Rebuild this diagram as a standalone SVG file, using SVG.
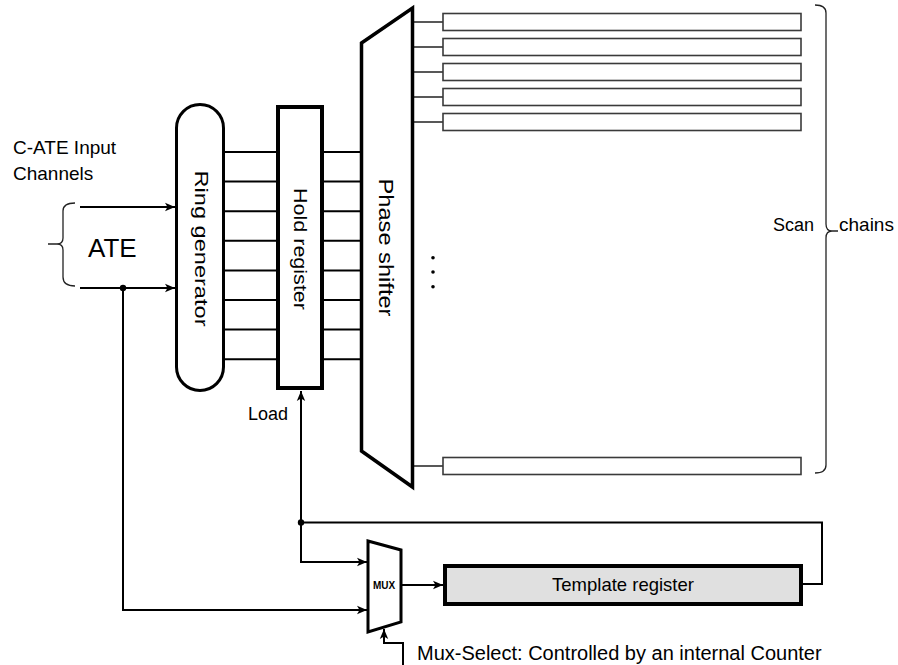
<svg xmlns="http://www.w3.org/2000/svg" width="898" height="665" viewBox="0 0 898 665">
<style>
  .lbl { font-family: "Liberation Sans", Arial, sans-serif; fill: #000; }
  .block { fill: #fff; stroke: #000; }
  .wire { fill: none; stroke: #000; stroke-width: 2; }
  .thin { fill: none; stroke: #222; stroke-width: 1.6; }
  .chain { fill: #fff; stroke: #3a3a3a; stroke-width: 1.6; }
  .brace { fill: none; stroke: #222; stroke-width: 1.3; }
</style>
<defs>
  <marker id="arr" markerUnits="userSpaceOnUse" markerWidth="12" markerHeight="10" refX="11" refY="5" orient="auto">
    <path d="M1,0.8 L11,5 L1,9.2 L3.5,5 z" fill="#000"/>
  </marker>
</defs>
<rect width="898" height="665" fill="#fff"/>

<g id="labels">
  <text class="lbl" x="13" y="154" font-size="19">C-ATE Input</text>
  <text class="lbl" x="13" y="180" font-size="19">Channels</text>
  <text class="lbl" x="773" y="231" font-size="18">Scan</text>
  <text class="lbl" x="839" y="231" font-size="19">chains</text>
  <text class="lbl" x="248" y="420" font-size="18">Load</text>
  <text class="lbl" x="417" y="660" font-size="20">Mux-Select: Controlled by an internal Counter</text>
</g>

<g id="ate">
  <path class="brace" d="M75,203 Q63,203 63,211 L63,238 Q63,244 57,244 L48,244 M57,244 Q63,244 63,250 L63,277 Q63,286 75,286"/>
  <text class="lbl" x="88" y="257" font-size="26">ATE</text>
</g>

<g id="connectors">
  <path class="wire" d="M80,207 L175,207" marker-end="url(#arr)"/>
  <path class="wire" d="M80,288 L175,288" marker-end="url(#arr)"/>
  <path class="wire" d="M123,288 L123,610 L367,610" marker-end="url(#arr)"/>
  <path class="wire" d="M803,584 L822,584 L822,522.5 L301,522.5"/>
  <path class="wire" d="M301,522.5 L301,391" marker-end="url(#arr)"/>
  <path class="wire" d="M301,522.5 L301,562 L367,562" marker-end="url(#arr)"/>
  <path class="wire" d="M401,585 L443,585" marker-end="url(#arr)"/>
  <path class="wire" d="M403,665 L403,643 L384,643 L384,629" marker-end="url(#arr)"/>
  <circle cx="123" cy="288" r="3.2" fill="#000"/>
  <circle cx="301" cy="522.5" r="3.2" fill="#000"/>
  <g class="wire">
    <path d="M225,152 L277,152 M225,181.6 L277,181.6 M225,211.2 L277,211.2 M225,240.8 L277,240.8 M225,270.4 L277,270.4 M225,300 L277,300 M225,329.6 L277,329.6 M225,359.2 L277,359.2"/>
    <path d="M323,152 L362,152 M323,181.6 L362,181.6 M323,211.2 L362,211.2 M323,240.8 L362,240.8 M323,270.4 L362,270.4 M323,300 L362,300 M323,329.6 L362,329.6 M323,359.2 L362,359.2"/>
  </g>
  <path class="thin" d="M412,22 L443,22 M412,47 L443,47 M412,72 L443,72 M412,97 L443,97 M412,122 L443,122 M412,466 L443,466"/>
</g>

<g id="ring-generator">
  <rect class="block" x="176.5" y="104.5" width="47" height="286" rx="23.5" stroke-width="3"/>
  <text class="lbl" font-size="19" text-anchor="middle" textLength="156" lengthAdjust="spacingAndGlyphs" transform="translate(195,248.5) rotate(90)">Ring generator</text>
</g>

<g id="hold-register">
  <rect class="block" x="278" y="107" width="44" height="281" stroke-width="4"/>
  <text class="lbl" font-size="18" text-anchor="middle" textLength="122" lengthAdjust="spacingAndGlyphs" transform="translate(293.5,249) rotate(90)">Hold register</text>
</g>

<g id="phase-shifter">
  <polygon class="block" points="361.5,43 412.5,8 412.5,487 361.5,451" stroke-width="3.5"/>
  <text class="lbl" font-size="20" text-anchor="middle" textLength="138" lengthAdjust="spacingAndGlyphs" transform="translate(379,247.5) rotate(90)">Phase shifter</text>
</g>

<g id="scan-chains">
  <rect class="chain" x="443" y="13.5" width="358" height="17"/>
  <rect class="chain" x="443" y="38.5" width="358" height="17"/>
  <rect class="chain" x="443" y="63.5" width="358" height="17"/>
  <rect class="chain" x="443" y="88.5" width="358" height="17"/>
  <rect class="chain" x="443" y="113.5" width="358" height="17"/>
  <rect class="chain" x="443" y="457.5" width="358" height="17"/>
  <circle cx="433" cy="257.7" r="1.8" fill="#000"/>
  <circle cx="433" cy="272" r="1.8" fill="#000"/>
  <circle cx="433" cy="286.7" r="1.8" fill="#000"/>
  <path class="brace" d="M815,5 Q826,5 826,13 L826,224 Q826,231 832,231 L838,231 M832,231 Q826,231 826,238 L826,465 Q826,473 815,473"/>
</g>

<g id="mux">
  <polygon class="block" points="368,541 401,550 401,622 368,632" stroke-width="3"/>
  <text class="lbl" x="384" y="589" font-size="10" font-weight="bold" text-anchor="middle">MUX</text>
</g>

<g id="template-register">
  <rect x="445" y="566" width="356" height="38" fill="#e0e0e0" stroke="#000" stroke-width="4"/>
  <text class="lbl" x="623" y="591" font-size="18.5" text-anchor="middle" fill="#222">Template register</text>
</g>
</svg>
